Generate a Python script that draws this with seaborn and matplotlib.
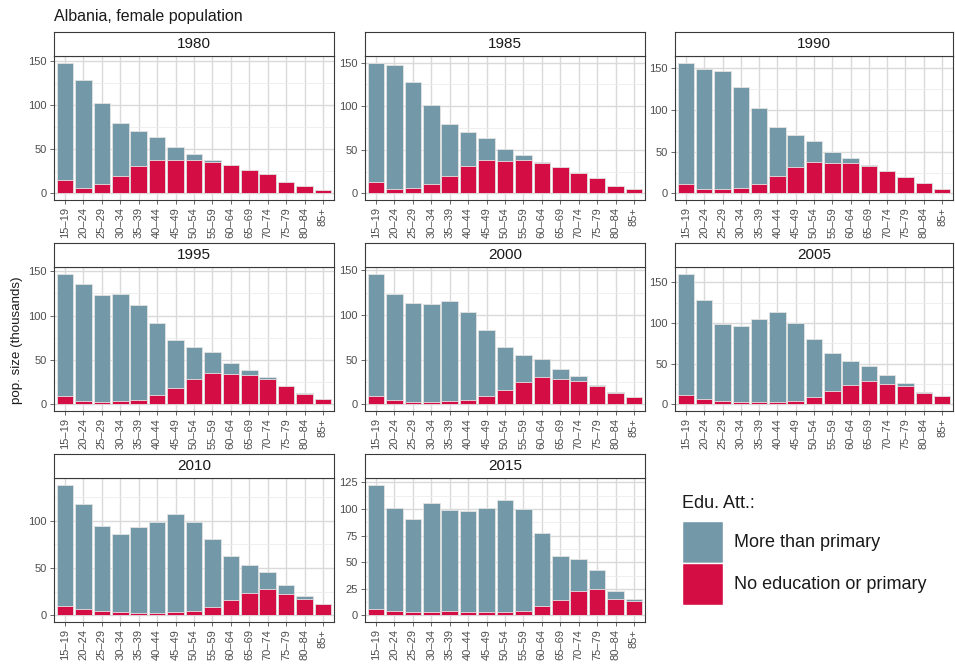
import matplotlib
matplotlib.use("Agg")
import matplotlib.pyplot as plt
from matplotlib.patches import Patch
import seaborn as sns
import pandas as pd
import numpy as np

ages = ["15–19", "20–24", "25–29", "30–34", "35–39", "40–44", "45–49", "50–54",
        "55–59", "60–64", "65–69", "70–74", "75–79", "80–84", "85+"]
years = [1980, 1985, 1990, 1995, 2000, 2005, 2010, 2015]

# "No education or primary" (thousands)
low_1980 = [15.7, 6.4, 11.2, 20.0, 31.5, 38.0, 37.5, 38.0, 35.0, 32.0, 27.0, 22.0, 12.7, 8.2, 4.0]
low_1985 = [13.0, 5.0, 6.5, 11.0, 20.5, 31.6, 38.0, 37.0, 38.0, 35.0, 30.0, 23.6, 17.9, 8.8, 5.0]
low_1990 = [11.5, 4.8, 4.8, 6.3, 11.5, 21.0, 31.0, 37.7, 36.5, 36.0, 32.5, 27.4, 19.8, 12.3, 5.6]
low_1995 = [9.7, 3.7, 3.0, 3.7, 5.2, 10.5, 18.4, 28.5, 35.6, 34.0, 33.4, 28.9, 20.5, 12.0, 6.7]
low_2000 = [9.0, 5.2, 3.0, 3.0, 3.7, 5.2, 9.7, 16.0, 24.6, 31.0, 28.3, 26.5, 20.5, 13.0, 8.2]
low_2005 = [11.5, 6.6, 4.1, 2.5, 2.5, 3.3, 4.1, 9.0, 16.0, 23.8, 28.7, 25.4, 23.0, 14.0, 10.2]
low_2010 = [10.1, 7.0, 5.2, 3.5, 2.8, 2.8, 3.5, 5.2, 8.7, 16.1, 23.8, 27.6, 23.1, 17.5, 12.6]
low_2015 = [5.6, 4.4, 3.4, 2.8, 4.0, 3.4, 2.8, 3.4, 4.4, 9.0, 14.3, 22.7, 24.9, 15.6, 13.4]

# "More than primary" (thousands)
high_1980 = [132.0, 121.6, 90.8, 60.0, 39.0, 26.0, 14.5, 6.6, 3.0, 0.0, 0.0, 0.0, 0.0, 0.0, 0.0]
high_1985 = [137.0, 142.3, 121.5, 90.6, 59.1, 38.4, 25.6, 14.4, 6.5, 1.5, 0.0, 0.0, 0.0, 0.0, 0.0]
high_1990 = [144.8, 144.2, 141.6, 121.1, 90.1, 58.0, 38.4, 24.6, 13.5, 6.9, 1.6, 0.0, 0.0, 0.0, 0.0]
high_1995 = [137.7, 131.7, 120.4, 121.2, 106.5, 81.4, 54.3, 36.0, 23.6, 12.9, 5.6, 1.8, 0.5, 0.4, 0.0]
high_2000 = [137.3, 118.4, 110.2, 109.0, 112.4, 98.0, 73.3, 48.5, 30.5, 19.7, 11.2, 5.2, 0.8, 0.4, 0.0]
high_2005 = [149.5, 121.7, 94.3, 94.2, 103.2, 109.8, 95.9, 72.1, 47.1, 29.5, 18.8, 10.3, 4.0, 0.8, 0.0]
high_2010 = [128.0, 110.8, 89.6, 82.2, 90.2, 95.8, 103.1, 93.4, 71.7, 46.5, 29.3, 18.6, 9.1, 3.5, 0.0]
high_2015 = [117.4, 96.8, 87.6, 102.5, 95.0, 95.0, 98.4, 104.7, 95.9, 68.9, 41.8, 29.9, 18.1, 7.1, 2.2]

low_all = [low_1980, low_1985, low_1990, low_1995, low_2000, low_2005, low_2010, low_2015]
high_all = [high_1980, high_1985, high_1990, high_1995, high_2000, high_2005, high_2010, high_2015]

label_high = "More than primary"
label_low = "No education or primary"
col_high = "#7399a9"
col_low = "#d50d45"

rows = []
for yr, lo, hi in zip(years, low_all, high_all):
    for a, l, h in zip(ages, lo, hi):
        rows.append({"year": yr, "age": a, "low": l, "high": h, "total": l + h})
df = pd.DataFrame(rows)

sns.set_theme(style="white")
plt.rcParams["font.family"] = ["Liberation Sans", "DejaVu Sans"]

W, H = 955, 665
fig = plt.figure(figsize=(W / 100, H / 100), dpi=100)


def fr(x0, y0, x1, y1):
    return [x0 / W, 1 - y1 / H, (x1 - x0) / W, (y1 - y0) / H]


col_x = [(54, 334), (365, 645), (675, 953)]
row_y = [(56, 200), (267, 411), (478, 622)]
strip_h = 24
frame_col = "#3a3a3a"

for i, yr in enumerate(years):
    r, c = divmod(i, 3)
    x0, x1 = col_x[c]
    y0, y1 = row_y[r]
    ax = fig.add_axes(fr(x0, y0, x1, y1))
    sub = df[df["year"] == yr]
    sns.barplot(data=sub, x="age", y="total", order=ages, color=col_high,
                saturation=1, width=0.9, edgecolor="#e3e3e3", linewidth=0.6,
                errorbar=None, ax=ax, zorder=3)
    sns.barplot(data=sub, x="age", y="low", order=ages, color=col_low,
                saturation=1, width=0.9, edgecolor="#e3e3e3", linewidth=0.6,
                errorbar=None, ax=ax, zorder=4)
    mx = sub["total"].max()
    top = 1.05 * mx
    ax.set_xlim(-0.6, len(ages) - 0.4)
    ax.set_ylim(-0.05 * mx, top)
    step = 25 if mx < 130 else 50
    ax.set_yticks(np.arange(0, top, step))
    ax.set_yticks(np.arange(step / 2, top, step), minor=True)
    ax.set_xticks(range(len(ages)))
    ax.grid(True, which="major", color="#dadada", linewidth=1.0, zorder=0)
    ax.grid(True, which="minor", axis="y", color="#ededed", linewidth=0.6, zorder=0)
    ax.set_axisbelow(True)
    ax.set_xticklabels(ages, rotation=90, fontsize=8, color="#4d4d4d")
    ax.tick_params(axis="y", labelsize=8, labelcolor="#4d4d4d")
    ax.tick_params(which="major", length=3, width=0.6, color="#4d4d4d", pad=2,
                   bottom=True, left=True)
    ax.tick_params(which="minor", length=0)
    ax.set_xlabel("")
    ax.set_ylabel("")
    for s in ax.spines.values():
        s.set_visible(True)
        s.set_color(frame_col)
        s.set_linewidth(0.8)
    ax.set_facecolor("white")
    sax = fig.add_axes(fr(x0, y0 - strip_h, x1, y0))
    sax.set_xticks([])
    sax.set_yticks([])
    sax.set_facecolor("white")
    for s in sax.spines.values():
        s.set_color(frame_col)
        s.set_linewidth(0.8)
    sax.text(0.5, 0.5, str(yr), ha="center", va="center", fontsize=11,
             color="#1a1a1a", transform=sax.transAxes)

fig.text(54 / W, 1 - 17 / H, "Albania, female population", fontsize=11.5,
         color="#1a1a1a", ha="left", va="center")
fig.text(17 / W, 1 - 340 / H, "pop. size (thousands)", fontsize=9.6,
         color="#1a1a1a", rotation=90, ha="center", va="center")

fig.text(682 / W, 1 - 504 / H, "Edu. Att.:", fontsize=13, color="#1a1a1a",
         ha="left", va="center")
handles = [Patch(facecolor=col_high, edgecolor="white", linewidth=1.0, label=label_high),
           Patch(facecolor=col_low, edgecolor="white", linewidth=1.0, label=label_low)]
leg = fig.legend(handles=handles, loc="upper left",
                 bbox_to_anchor=(682 / W, 1 - 521 / H), frameon=False,
                 fontsize=13, handlelength=2.27, handleheight=3.2,
                 labelspacing=0.0, handletextpad=0.62, borderpad=0,
                 borderaxespad=0)
for t in leg.get_texts():
    t.set_color("#1a1a1a")

fig.savefig("out.png", dpi=100, facecolor="white")
